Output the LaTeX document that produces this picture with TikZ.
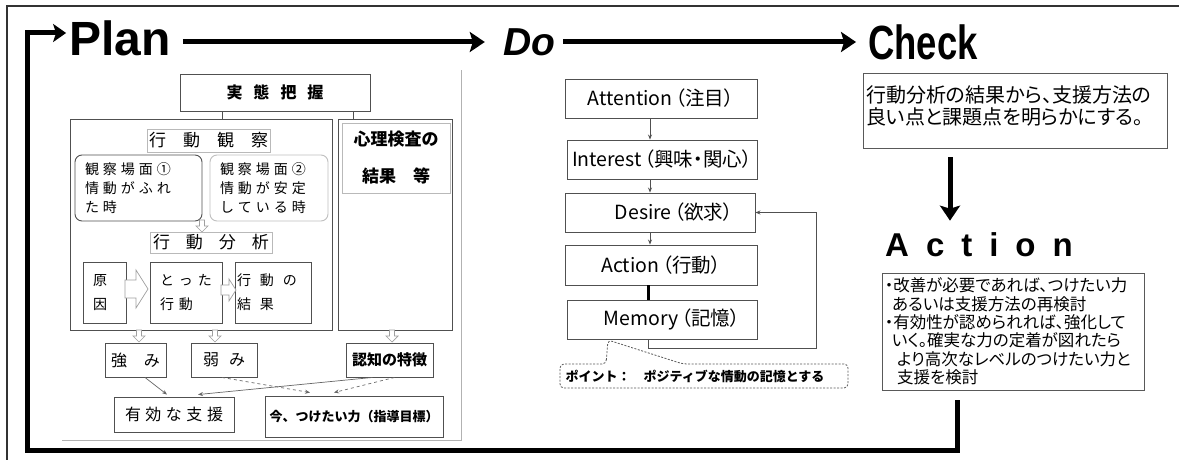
\documentclass[tikz,border=0pt]{standalone}
\usepackage{fontspec}
\setmainfont{Noto Sans CJK JP}
\newfontfamily\jpp[RawFeature=+palt]{Noto Sans CJK JP}
\newfontfamily\lat{Liberation Sans}
\newfontfamily\latn[FakeStretch=0.76]{Liberation Sans}
\usetikzlibrary{arrows.meta,calc}
\definecolor{bx}{HTML}{505050}
\def\lsp#1#2{\def\lspgap{#1}\lspx#2\relax}
\def\lspx#1{\ifx#1\relax\else#1\expandafter\lspy\fi}
\def\lspy#1{\ifx#1\relax\else\hspace{\lspgap}#1\expandafter\lspy\fi}
\begin{document}
\begin{tikzpicture}[x=1pt,y=-1pt,
  box/.style={draw=bx, line width=0.9pt, fill=white, inner sep=0pt, align=center},
  lbox/.style={draw=gray!55, line width=0.8pt, inner sep=0pt, align=center},
  dbox/.style={box, minimum height=39pt, font=\jpp\fontsize{19.5}{22}\selectfont},
  hol/.style={draw=gray!75, fill=white, line width=0.7pt},
  hdown/.pic={\draw[hol] (-2.5,0) -- (-2.5,6) -- (-6,6) -- (0,12) -- (6,6) -- (2.5,6) -- (2.5,0) -- cycle;},
  sarr/.style={draw=gray!80!black, line width=0.7pt, -{Stealth[length=5pt,width=4pt]}},
  tarr/.style={draw=bx, line width=0.8pt, -{Stealth[length=5pt,width=4pt]}},
  big/.style={line width=5pt, -{Stealth[length=15pt,width=20pt,inset=3pt]}},
  loopline/.style={line width=5pt, -{Stealth[length=13pt,width=18pt,inset=3pt]}},
  callout/.style={draw=gray!70!black, line width=0.8pt, dash pattern=on 2pt off 1.5pt, rounded corners=4pt}
]
\useasboundingbox (0,0) rectangle (1179,460);
\fill[white] (0,0) rectangle (1179,460);
\draw[line width=1.5pt, black!80] (7,460) -- (7,6) -- (1179,6);

% titles
\node[inner sep=0pt, font=\lat\bfseries\fontsize{48}{52}\selectfont] (plan) at (120,38) {Plan};
\node[inner sep=0pt, font=\lat\bfseries\itshape\fontsize{39}{44}\selectfont] (do) at (529,42) {Do};
\node[inner sep=0pt, font=\latn\bfseries\fontsize{48}{52}\selectfont] (check) at (923,42) {Check};
\draw[big] ([xshift=12pt,yshift=-4pt]plan.east) -- ([xshift=-18pt]do.west);
\draw[big] ([xshift=8pt]do.east) -- ([xshift=-12pt]check.west);

% ---------- Plan ----------
\draw[gray!60, line width=0.8pt] (62,440) -- (461,440) -- (461,70);
\node[box, minimum width=190pt, minimum height=37pt, font=\bfseries\fontsize{16}{18}\selectfont] (jt) at (275,92.5) {\lsp{11pt}{実態把握}};
\node[box, minimum width=262pt, minimum height=211pt] (kk) at (201,224.5) {};
\node[box, minimum width=114pt, minimum height=211pt] (sr) at (395,224.5) {};
\draw[bx, line width=0.8pt] ([xshift=-53pt]jt.south) -- ([xshift=21pt]kk.north);
\draw[bx, line width=0.8pt] ([xshift=78pt]jt.south) -- ([xshift=-42pt]sr.north);
\node[lbox, minimum width=108pt, minimum height=70pt, font=\bfseries\fontsize{17}{20}\selectfont] (sri) at (396,158) {心理検査の\\[17pt]結果　等};
\node[lbox, minimum width=123pt, minimum height=23pt, font=\fontsize{17}{20}\selectfont] (kt) at (208.5,140.5) {\lsp{17pt}{行動観察}};
\node[box, rounded corners=7pt, minimum width=127pt, minimum height=66pt, align=left, text width=107pt, font=\fontsize{14}{19}\selectfont] (s1) at (138.5,188) {\lsp{4pt}{観察場面①}\\\lsp{4pt}{情動がふれ}\\\lsp{4pt}{た時}};
\node[box, draw=gray!50, rounded corners=7pt, minimum width=118pt, minimum height=66pt, align=left, text width=98pt, font=\fontsize{14}{19}\selectfont] (s2) at (269,188) {\lsp{4pt}{観察場面②}\\\lsp{4pt}{情動が安定}\\\lsp{4pt}{している時}};
\pic at (202,220) {hdown};
\node[lbox, minimum width=122pt, minimum height=21pt, font=\fontsize{17}{20}\selectfont] (kb) at (211,242.5) {\lsp{16pt}{行動分析}};
\node[box, minimum width=43pt, minimum height=61pt, align=left, text width=23pt, font=\fontsize{14}{24}\selectfont] (gen) at (104.5,292.5) {原\\因};
\node[box, minimum width=72pt, minimum height=61pt, align=left, text width=52pt, font=\fontsize{14}{24}\selectfont] (tk) at (186,292.5) {\lsp{5pt}{とった}\\\lsp{5pt}{行動}};
\node[box, minimum width=76pt, minimum height=61pt, align=left, text width=72pt, font=\fontsize{14}{24}\selectfont] (kr) at (273,292.5) {\lsp{9pt}{行動の}\\\lsp{9pt}{結果}};
\draw[hol] (125,280) -- (136,280) -- (136,270) -- (148,289) -- (136,308) -- (136,298) -- (125,298) -- cycle;
\draw[hol] (221,285) -- (229,285) -- (229,279) -- (236,290) -- (229,301) -- (229,295) -- (221,295) -- cycle;
\pic at (139,330) {hdown};
\pic at (215,330) {hdown};
\pic at (392,330) {hdown};
\node[box, minimum width=61pt, minimum height=34pt, font=\fontsize{16}{18}\selectfont] (tsu) at (135.5,360) {\lsp{17pt}{強み}};
\node[box, minimum width=66pt, minimum height=34pt, font=\fontsize{16}{18}\selectfont] (yo) at (224,360) {\lsp{10pt}{弱み}};
\node[box, minimum width=87pt, minimum height=34pt, font=\bfseries\fontsize{15}{18}\selectfont] (nc) at (389.5,360) {認知の特徴};
\node[box, minimum width=120pt, minimum height=35pt, font=\fontsize{16}{18}\selectfont] (ys) at (174,414.5) {\lsp{4.5pt}{有効な支援}};
\node[box, minimum width=178pt, minimum height=41pt, font=\bfseries\fontsize{13}{16}\selectfont] (im) at (354,416.5) {今、つけたい力（指導目標）};
\draw[sarr] ([xshift=9.5pt]tsu.south) -- ([xshift=-7pt,yshift=2pt]ys.north);
\draw[sarr, dashed] ([xshift=-2pt]yo.south) -- ([xshift=-44pt,yshift=3pt]im.north);
\draw[sarr] ([xshift=-17pt]nc.south) -- ([xshift=24pt,yshift=2pt]ys.north);
\draw[sarr, dashed] ([xshift=5pt]nc.south) -- ([xshift=-20pt,yshift=3pt]im.north);

% ---------- Do ----------
\node[dbox, minimum width=192pt] (at) at (661,98.5) {Attention\hspace{3pt}（注目）};
\node[dbox, minimum width=190pt] (in) at (662,159.5) {Interest\hspace{3pt}（興味・関心）};
\node[dbox, minimum width=190pt] (de) at (660,212.5) {\hspace*{28pt}Desire\hspace{3pt}（欲求）};
\node[dbox, minimum width=192pt, minimum height=40pt] (ac) at (661,265) {Action\hspace{3pt}（行動）};
\node[dbox, minimum width=190pt] (me) at (662,319.5) {\hspace*{20pt}Memory\hspace{3pt}（記憶）};
\draw[tarr] ([xshift=-11pt]at.south) -- ([xshift=-12pt]in.north);
\draw[tarr] ([xshift=-12pt]in.south) -- ([xshift=-10pt]de.north);
\draw[tarr] ([xshift=-10pt]de.south) -- ([xshift=-11pt]ac.north);
\draw[line width=3pt] ([xshift=-13pt]ac.south) -- ([xshift=-14pt]me.north);
\coordinate (fb) at (816,348);
\draw[tarr] ([xshift=-14pt]me.south) |- (fb) |- (de.east);
\draw[callout] (606,364) -- (608,340) -- (683,364) -- (848,364) -- (848,388) -- (560,388) -- (560,364) -- cycle;
\node[inner sep=0pt, font=\bfseries\fontsize{13}{15}\selectfont] (pt) at (695,376) {ポイント：　ポジティブな情動の記憶とする};

% ---------- Check / Action ----------
\node[lbox, draw=gray!70!black, minimum width=304pt, minimum height=75pt] (ch) at (1015,110.5) {};
\node[anchor=north west, inner sep=0pt, align=left, font=\jpp\fontsize{20}{22}\selectfont] (cht) at (866,85) {行動分析の結果から、支援方法の\\良い点と課題点を明らかにする。};
\node[inner sep=0pt, font=\lat\bfseries\fontsize{33}{36}\selectfont] (actt) at (979,245) {A\hspace{17pt}c\hspace{17pt}t\hspace{17pt}i\hspace{17pt}o\hspace{17pt}n};
\draw[big] ([xshift=-65pt,yshift=-9pt]ch.south) -- ([xshift=-29pt,yshift=12pt]actt.north);
\node[lbox, draw=gray!70!black, minimum width=262pt, minimum height=117pt, align=left, text width=256pt, font=\jpp\fontsize{16.5}{18.4}\selectfont] (ab) at (1013,331.5) {・改善が必要であれば、つけたい力\\\hspace*{7pt}あるいは支援方法の再検討\\・有効性が認められれば、強化して\\\hspace*{7pt}いく。確実な力の定着が図れたら\\\hspace*{12pt}より高次なレベルのつけたい力と\\\hspace*{12pt}支援を検討};
\coordinate (lb) at (27,450);
\draw[loopline] ([xshift=-56pt,yshift=-10pt]ab.south) |- (lb) |- ([xshift=-3pt,yshift=5pt]plan.west);
\end{tikzpicture}
\end{document}
